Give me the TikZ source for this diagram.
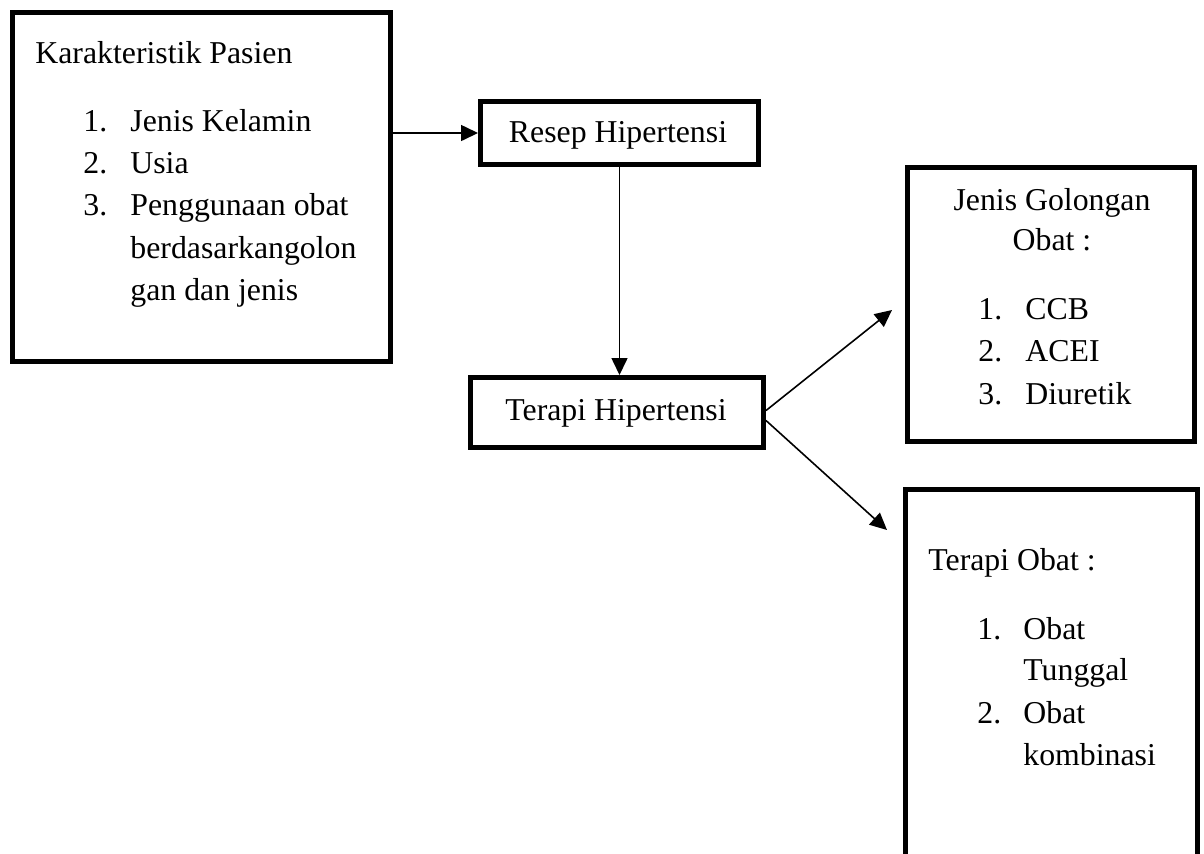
\documentclass[tikz,border=0pt]{standalone}
\usepackage{fontspec}
\setmainfont{Liberation Serif}
\usetikzlibrary{arrows.meta}
\begin{document}
\begin{tikzpicture}[x=0.5pt,y=-0.5pt,
  box/.style={draw=black, line width=2.5pt, inner sep=0pt, fill=white},
  txt/.style={inner sep=0pt, font=\fontsize{15.9}{21}\selectfont},
  arr/.style={draw=black, line width=0.8pt, -{Triangle[length=8.5pt,width=8pt]}}]
\useasboundingbox (0,0) rectangle (1204,853);
\clip (0,0) rectangle (1204,853);
% boxes
\node[box, minimum width=189pt, minimum height=174.25pt] (b1) at (201.5,186.75) {};
\node[box, minimum width=139pt, minimum height=31.5pt] (b2) at (619.5,133) {};
\node[box, minimum width=146.5pt, minimum height=35pt] (b3) at (617,412.5) {};
\node[box, minimum width=143.5pt, minimum height=137pt] (b4) at (1051,304.5) {};
\node[box, minimum width=146pt, minimum height=205.25pt] (b5) at (1051.5,694.75) {};
% box 1 text
\node[txt, anchor=base west] (k0) at (35,63.3) {Karakteristik Pasien};
\node[txt, anchor=base west] (k1n) at (83,131.7) {1.};
\node[txt, anchor=base west] (k1) at (130,131.7) {Jenis Kelamin};
\node[txt, anchor=base west] (k2n) at (83,173.5) {2.};
\node[txt, anchor=base west] (k2) at (130,173.5) {Usia};
\node[txt, anchor=base west] (k3n) at (83,215.5) {3.};
\node[txt, anchor=base west] (k3) at (130,215.5) {Penggunaan obat};
\node[txt, anchor=base west] (k4) at (130,258) {berdasarkangolon};
\node[txt, anchor=base west] (k5) at (130,300) {gan dan jenis};
% box 2, 3 text
\node[txt, anchor=base] (t2) at (618,142.7) {Resep Hipertensi};
\node[txt, anchor=base] (t3) at (616,420) {Terapi Hipertensi};
% box 4 text
\node[txt, anchor=base] (g0) at (1052,210) {Jenis Golongan};
\node[txt, anchor=base] (g1) at (1052,250.7) {Obat :};
\node[txt, anchor=base west] (g2n) at (978,319.3) {1.};
\node[txt, anchor=base west] (g2) at (1025,319.3) {CCB};
\node[txt, anchor=base west] (g3n) at (978,361.7) {2.};
\node[txt, anchor=base west] (g3) at (1025,361.7) {ACEI};
\node[txt, anchor=base west] (g4n) at (978,404.5) {3.};
\node[txt, anchor=base west] (g4) at (1025,404.5) {Diuretik};
% box 5 text
\node[txt, anchor=base west] (o0) at (928,570) {Terapi Obat :};
\node[txt, anchor=base west] (o1n) at (977,639) {1.};
\node[txt, anchor=base west] (o1) at (1023,639) {Obat};
\node[txt, anchor=base west] (o2) at (1023,680.5) {Tunggal};
\node[txt, anchor=base west] (o3n) at (977,723) {2.};
\node[txt, anchor=base west] (o3) at (1023,723) {Obat};
\node[txt, anchor=base west] (o4) at (1023,765) {kombinasi};
% connectors
\coordinate (e1) at (892,310);
\coordinate (e2) at (887,530);
\draw[arr] (b1.east |- b2.west) -- (b2.west);
\draw[arr] (b2.south) -- (b2.south |- b3.north);
\draw[arr] ([yshift=1pt]b3.east) -- (e1);
\draw[arr] ([yshift=-4pt]b3.east) -- (e2);
\end{tikzpicture}
\end{document}
